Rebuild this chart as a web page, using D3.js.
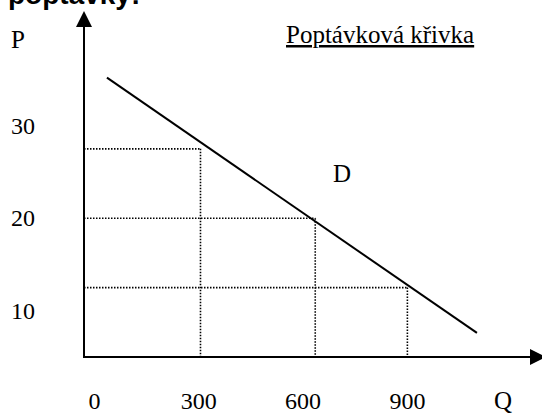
<!DOCTYPE html>
<html>
<head>
<meta charset="utf-8">
<script src="https://cdn.jsdelivr.net/npm/d3@7"></script>
<style>
  body { margin: 0; background: #fff; }
  svg text { font-family: "Liberation Serif", "Times New Roman", serif; fill: #000; }
</style>
</head>
<body>
<svg id="mysvg" width="542" height="414"></svg>
<script>
// values (hand drawn diagram, so not perfectly round)
var qTicks = [0, 300, 600, 900];
var pTicks = [30, 20, 10];
var pointQ = [305, 635, 900];     // where the dotted lines drop to the Q axis
var pointP = [27.5, 20, 12.5];    // where the dotted lines meet the P axis
var demandQ = [36, 1100];         // ends of the demand line D
var demandP = [35.2, 7.6];

var w = 542, h = 414;
var svg = d3.select("#mysvg");

var xScale = d3.scaleLinear().domain([-30, 1290]).range([84, 543]);
var yScale = d3.scaleLinear().domain([5, 42.4]).range([357, 11]);

var x0 = xScale(-30), y0 = yScale(5);

// cut off heading at the top
svg.append("text")
  .attr("x", 8).attr("y", 4)
  .style("font-family", "'Liberation Sans', Arial, sans-serif")
  .style("font-weight", "bold")
  .style("font-size", "28px")
  .text("poptávky:");

// dotted guide lines
var pts = pointQ.map(function (q, i) { return { q: q, p: pointP[i] }; });
var guides = svg.append("g")
  .attr("stroke", "#000")
  .attr("stroke-width", 1.6)
  .attr("stroke-dasharray", "1.5,1.5")
  .attr("fill", "none");
guides.selectAll(".h").data(pts).enter().append("line")
  .attr("x1", x0).attr("x2", function (d) { return xScale(d.q); })
  .attr("y1", function (d) { return yScale(d.p); })
  .attr("y2", function (d) { return yScale(d.p); });
guides.selectAll(".v").data(pts).enter().append("line")
  .attr("x1", function (d) { return xScale(d.q); })
  .attr("x2", function (d) { return xScale(d.q); })
  .attr("y1", function (d) { return yScale(d.p); })
  .attr("y2", y0);

// demand line
var demand = demandQ.map(function (q, i) { return [q, demandP[i]]; });
svg.append("path")
  .datum(demand)
  .attr("fill", "none")
  .attr("stroke", "#000")
  .attr("stroke-width", 2)
  .attr("d", d3.line()
    .x(function (d) { return xScale(d[0]); })
    .y(function (d) { return yScale(d[1]); }));

// axes with arrow heads
svg.append("line")
  .attr("x1", x0).attr("y1", y0 + 1)
  .attr("x2", x0).attr("y2", yScale(42.4) + 14)
  .attr("stroke", "#000").attr("stroke-width", 2);
svg.append("line")
  .attr("x1", x0 - 1).attr("y1", y0)
  .attr("x2", w - 12).attr("y2", y0)
  .attr("stroke", "#000").attr("stroke-width", 2);

var tipY = yScale(42.4);
svg.append("path")
  .attr("d", "M" + x0 + "," + tipY + "L" + (x0 - 8) + "," + (tipY + 16) + "L" + (x0 + 8) + "," + (tipY + 16) + "Z")
  .attr("fill", "#000");
svg.append("path")
  .attr("d", "M" + (w + 4) + "," + y0 + "L" + (w - 12) + "," + (y0 - 8) + "L" + (w - 12) + "," + (y0 + 8) + "Z")
  .attr("fill", "#000");

// tick labels
svg.selectAll(".qlab").data(qTicks).enter().append("text")
  .attr("x", function (d) { return xScale(d); })
  .attr("y", 409)
  .attr("text-anchor", "middle")
  .style("font-size", "24px")
  .text(function (d) { return d; });

svg.selectAll(".plab").data(pTicks).enter().append("text")
  .attr("x", 23)
  .attr("y", function (d) { return yScale(d); })
  .attr("dy", "0.33em")
  .attr("text-anchor", "middle")
  .style("font-size", "24px")
  .text(function (d) { return d; });

// axis names and labels
svg.append("text").attr("x", 18).attr("y", 48)
  .attr("text-anchor", "middle").style("font-size", "25px").text("P");
svg.append("text").attr("x", 503).attr("y", 409)
  .attr("text-anchor", "middle").style("font-size", "25px").text("Q");
svg.append("text").attr("x", 333).attr("y", 182)
  .style("font-size", "25px").text("D");

svg.append("text").attr("x", 286).attr("y", 43)
  .style("font-size", "25px")
  .style("text-decoration", "underline")
  .text("Poptávková křivka");
</script>
</body>
</html>
